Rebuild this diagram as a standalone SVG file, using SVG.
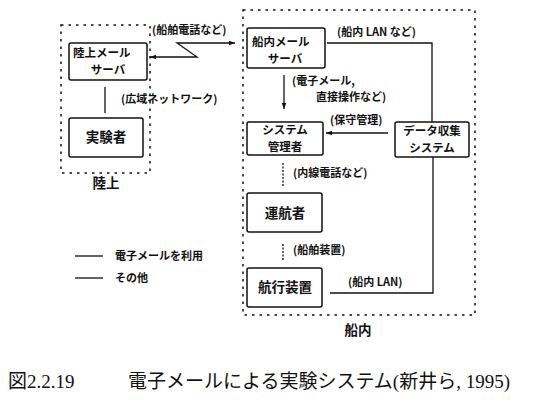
<svg xmlns="http://www.w3.org/2000/svg" width="550" height="409" viewBox="0 0 550 409">
<style>
text{font-family:"Noto Sans CJK JP","Noto Sans CJK SC",sans-serif;fill:#111}
.bx{fill:#fff;stroke:#111;stroke-width:1.5}
.grp{fill:none;stroke:#111;stroke-width:1.5;stroke-dasharray:2.5 5}
.ln{fill:none;stroke:#111;stroke-width:1.3}
.dl{fill:none;stroke:#111;stroke-width:1.3;stroke-dasharray:2 1.5}
.nt{font-size:13.5px;font-weight:bold}
.n2{font-size:11.5px;font-weight:bold}
.lb{font-size:11px;font-weight:bold}
.cap{font-family:"Liberation Serif","Noto Sans CJK JP",serif;font-size:19px}
</style>
<defs>
<marker id="ah" viewBox="0 0 8 8" refX="8" refY="4" markerWidth="6" markerHeight="6" orient="auto-start-reverse" markerUnits="userSpaceOnUse">
<path d="M0,1 L8,4 L0,7 z" fill="#111"/>
</marker>
</defs>
<rect width="550" height="409" fill="#fff"/>

<g id="land-area">
<rect class="grp" x="61" y="25" width="89" height="148"/>
<text class="nt" x="106" y="188" text-anchor="middle">陸上</text>
</g>
<g id="ship-area">
<rect class="grp" x="243" y="10" width="232" height="305"/>
<text class="nt" x="358" y="335" text-anchor="middle">船内</text>
</g>

<g id="connectors">
<polyline class="ln" points="150,57 197,57 177,43 235,43" marker-start="url(#ah)" marker-end="url(#ah)"/>
<text class="lb" x="152" y="34">(船舶電話など)</text>
<line class="ln" x1="105" y1="87" x2="105" y2="113"/>
<text class="lb" x="121" y="103">(広域ネットワーク)</text>
<polyline class="ln" points="327,43 432,43 432,122"/>
<text class="lb" x="337" y="36">(船内 LAN など)</text>
<line class="ln" x1="284" y1="75" x2="284" y2="109" marker-end="url(#ah)"/>
<text class="lb" x="292" y="85">(電子メール,</text>
<text class="lb" x="316" y="101">直接操作など)</text>
<line class="ln" x1="388" y1="133" x2="326" y2="133" marker-end="url(#ah)"/>
<text class="lb" x="330" y="124">(保守管理)</text>
<line class="dl" x1="283" y1="163" x2="283" y2="187"/>
<text class="lb" x="293" y="177">(内線電話など)</text>
<line class="dl" x1="283" y1="244" x2="283" y2="261"/>
<text class="lb" x="293" y="254">(船舶装置)</text>
<polyline class="ln" points="330,293 433,293 433,157"/>
<text class="lb" x="348" y="286">(船内 LAN)</text>
</g>

<g id="land-mail-server">
<rect class="bx" x="69" y="43" width="78" height="37" rx="2"/>
<text class="n2" x="73" y="57">陸上メール</text>
<text class="n2" x="108" y="74" text-anchor="middle">サーバ</text>
</g>
<g id="experimenter">
<rect class="bx" x="69" y="118" width="74" height="39" rx="2"/>
<text class="nt" x="106" y="142" text-anchor="middle">実験者</text>
</g>
<g id="ship-mail-server">
<rect class="bx" x="247" y="28" width="78" height="40" rx="2"/>
<text class="n2" x="252" y="46">船内メール</text>
<text class="n2" x="285" y="63" text-anchor="middle">サーバ</text>
</g>
<g id="system-admin">
<rect class="bx" x="247" y="122" width="76" height="33" rx="2"/>
<text class="n2" x="285" y="134" text-anchor="middle">システム</text>
<text class="n2" x="285" y="151" text-anchor="middle">管理者</text>
</g>
<g id="data-collection">
<rect class="bx" x="395" y="122" width="74" height="35" rx="2"/>
<text class="n2" x="432" y="135" text-anchor="middle">データ収集</text>
<text class="n2" x="432" y="152" text-anchor="middle">システム</text>
</g>
<g id="operator">
<rect class="bx" x="247" y="193" width="75" height="39" rx="2"/>
<text class="nt" x="285" y="218" text-anchor="middle">運航者</text>
</g>
<g id="navigation-device">
<rect class="bx" x="247" y="268" width="75" height="39" rx="2"/>
<text class="nt" x="285" y="292" text-anchor="middle">航行装置</text>
</g>

<g id="legend">
<line class="ln" x1="75" y1="256" x2="103" y2="256"/>
<text class="lb" x="115" y="260">電子メールを利用</text>
<line class="ln" x1="75" y1="278" x2="103" y2="278"/>
<text class="lb" x="115" y="282">その他</text>
</g>

<g id="caption">
<text class="cap" x="8" y="388">図2.2.19</text>
<text class="cap" x="128" y="388">電子メールによる実験システム(新井ら, 1995)</text>
</g>
</svg>
